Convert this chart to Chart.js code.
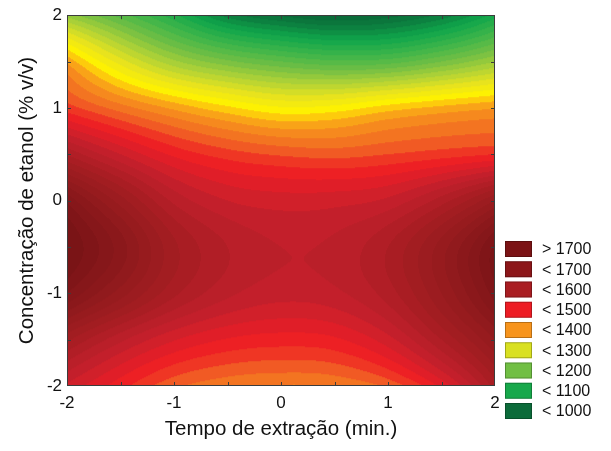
<!DOCTYPE html>
<html>
<head>
<meta charset="utf-8">
<script src="https://cdn.jsdelivr.net/npm/chart.js@4.4.1/dist/chart.umd.min.js"></script>
<style>
  html, body { margin: 0; padding: 0; background: #ffffff; }
  #wrap { width: 611px; height: 451px; }
</style>
</head>
<body>
<div id="wrap"><canvas id="surface" width="611" height="451"></canvas></div>
<script>
// Axis tick labels
const xTickValues = [-2, -1, 0, 1, 2];
const yTickValues = [-2, -1, 0, 1, 2];

// Coded factor levels of the response grid
const timeLevels = [-2, -1.5, -1, -0.5, 0, 0.5, 1, 1.5, 2];        // Tempo de extração
const ethanolLevels = [2, 1.5, 1, 0.5, 0, -0.5, -1, -1.5, -2];    // Concentração de etanol

// Response values, one row per ethanol level (columns follow timeLevels)
const responseEthanol2p0  = [1210, 1150, 1085, 1010,  975,  958,  970, 1005, 1070];
const responseEthanol1p5  = [1375, 1290, 1225, 1185, 1160, 1145, 1150, 1180, 1220];
const responseEthanol1p0  = [1450, 1410, 1375, 1345, 1323, 1328, 1350, 1366, 1378];
const responseEthanol0p5  = [1578, 1520, 1475, 1450, 1437, 1432, 1440, 1450, 1460];
const responseEthanol0p0  = [1715, 1630, 1555, 1520, 1510, 1512, 1525, 1570, 1640];
const responseEthanolM0p5 = [1760, 1690, 1605, 1560, 1540, 1545, 1580, 1650, 1745];
const responseEthanolM1p0 = [1720, 1650, 1585, 1545, 1528, 1535, 1570, 1640, 1730];
const responseEthanolM1p5 = [1605, 1545, 1502, 1478, 1470, 1476, 1512, 1580, 1660];
const responseEthanolM2p0 = [1515, 1468, 1425, 1405, 1398, 1402, 1425, 1485, 1590];

const responseRows = [
  responseEthanol2p0, responseEthanol1p5, responseEthanol1p0,
  responseEthanol0p5, responseEthanol0p0, responseEthanolM0p5,
  responseEthanolM1p0, responseEthanolM1p5, responseEthanolM2p0
];

// Legend classes
const legendLabels = ['> 1700', '< 1700', '< 1600', '< 1500', '< 1400', '< 1300', '< 1200', '< 1100', '< 1000'];
const legendColors = ['#7b1315', '#8c1619', '#a91d22', '#ed1c24', '#f7941d', '#d9e021', '#71bf44', '#17a84b', '#0c6b3a'];

// Shading palette: response value -> colour
const paletteValues = [940, 1000, 1060, 1120, 1180, 1240, 1290, 1333, 1355, 1378, 1405, 1430, 1455, 1475,
                       1500, 1535, 1600, 1670, 1720, 1780];
const paletteColors = ['#0a5f34', '#0b7a3e', '#10a64b', '#3cb44a', '#72bf44', '#b4d335', '#e8e31d', '#fff200',
                       '#fdc010', '#f7941d', '#f47b20', '#f15a24', '#ee2d24', '#ed1c24',
                       '#d8202a', '#c01f2b', '#a51d22', '#911a1d', '#831619', '#721214'];
const bandWidth = 20;

// Minor tick marks drawn inside the frame
const frameTickValues = [-1.5, -1, -0.5, 0, 0.5, 1, 1.5];

const FONT = "'Liberation Sans', Arial, Helvetica, sans-serif";

function hexToRgb(h) {
  const n = parseInt(h.slice(1), 16);
  return [(n >> 16) & 255, (n >> 8) & 255, n & 255];
}
const paletteRgb = paletteColors.map(hexToRgb);

function colourFor(v) {
  if (v <= paletteValues[0]) return paletteRgb[0];
  const last = paletteValues.length - 1;
  if (v >= paletteValues[last]) return paletteRgb[last];
  let k = 0;
  while (paletteValues[k + 1] < v) k++;
  const t = (v - paletteValues[k]) / (paletteValues[k + 1] - paletteValues[k]);
  const a = paletteRgb[k], b = paletteRgb[k + 1];
  return [a[0] + (b[0] - a[0]) * t, a[1] + (b[1] - a[1]) * t, a[2] + (b[2] - a[2]) * t];
}

// Catmull-Rom interpolation between grid nodes, quadratic extension past the edges
function catmull(p0, p1, p2, p3, t) {
  const t2 = t * t, t3 = t2 * t;
  return 0.5 * (2 * p1 + (-p0 + p2) * t + (2 * p0 - 5 * p1 + 4 * p2 - p3) * t2 + (-p0 + 3 * p1 - 3 * p2 + p3) * t3);
}
function pick(arr, k) {
  const n = arr.length;
  if (k < 0) return 3 * arr[0] - 3 * arr[1] + arr[2];
  if (k >= n) return 3 * arr[n - 1] - 3 * arr[n - 2] + arr[n - 3];
  return arr[k];
}
function responseAt(vx, vy) {
  const fx = (vx - timeLevels[0]) / (timeLevels[1] - timeLevels[0]);
  const fy = (vy - ethanolLevels[0]) / (ethanolLevels[1] - ethanolLevels[0]);
  const i = Math.max(0, Math.min(timeLevels.length - 2, Math.floor(fx)));
  const j = Math.max(0, Math.min(ethanolLevels.length - 2, Math.floor(fy)));
  const tx = fx - i, ty = fy - j;
  const rowVal = r => {
    const row = responseRows[r];
    return catmull(pick(row, i - 1), pick(row, i), pick(row, i + 1), pick(row, i + 2), tx);
  };
  const along = k => {
    const n = responseRows.length;
    if (k < 0) return 3 * rowVal(0) - 3 * rowVal(1) + rowVal(2);
    if (k >= n) return 3 * rowVal(n - 1) - 3 * rowVal(n - 2) + rowVal(n - 3);
    return rowVal(k);
  };
  return catmull(along(j - 1), along(j), along(j + 1), along(j + 2), ty);
}

// Filled contour field
const contourField = {
  id: 'contourField',
  beforeDatasetsDraw(chart) {
    const { ctx, chartArea: a, scales: { x, y } } = chart;
    const w = Math.round(a.right - a.left), h = Math.round(a.bottom - a.top);
    const off = document.createElement('canvas');
    off.width = w; off.height = h;
    const octx = off.getContext('2d');
    const img = octx.createImageData(w, h);
    const d = img.data;
    for (let py = 0; py < h; py++) {
      const vy = y.getValueForPixel(a.top + py + 0.5);
      for (let px = 0; px < w; px++) {
        const vx = x.getValueForPixel(a.left + px + 0.5);
        const v = responseAt(vx, vy);
        const band = Math.floor(v / bandWidth) * bandWidth + bandWidth / 2;
        const c = colourFor(band);
        const o = (py * w + px) * 4;
        d[o] = c[0]; d[o + 1] = c[1]; d[o + 2] = c[2]; d[o + 3] = 255;
      }
    }
    octx.putImageData(img, 0, 0);
    ctx.save();
    ctx.drawImage(off, a.left, a.top);
    ctx.restore();
  }
};

// Frame around the plot with short inward ticks
const plotFrame = {
  id: 'plotFrame',
  afterDatasetsDraw(chart) {
    const { ctx, chartArea: a, scales: { x, y } } = chart;
    ctx.save();
    ctx.strokeStyle = '#3c3c3c';
    ctx.lineWidth = 1;
    ctx.strokeRect(Math.round(a.left) + 0.5, Math.round(a.top) + 0.5,
                   Math.round(a.right - a.left) - 1, Math.round(a.bottom - a.top) - 1);
    ctx.beginPath();
    const len = 4;
    frameTickValues.forEach(v => {
      const px = Math.round(x.getPixelForValue(v)) + 0.5;
      ctx.moveTo(px, a.top); ctx.lineTo(px, a.top + len);
      ctx.moveTo(px, a.bottom); ctx.lineTo(px, a.bottom - len);
      const py = Math.round(y.getPixelForValue(v)) + 0.5;
      ctx.moveTo(a.left, py); ctx.lineTo(a.left + len, py);
      ctx.moveTo(a.right, py); ctx.lineTo(a.right - len, py);
    });
    ctx.stroke();
    ctx.restore();
  }
};

// Class legend at the lower right
const classLegend = {
  id: 'classLegend',
  afterDraw(chart) {
    const { ctx, chartArea: a } = chart;
    const boxX = a.right + 10, boxW = 27, boxH = 16, pitch = 20.25, top0 = 241;
    ctx.save();
    ctx.font = '16px ' + FONT;
    ctx.textBaseline = 'middle';
    ctx.textAlign = 'left';
    legendLabels.forEach((label, i) => {
      const top = top0 + i * pitch;
      ctx.fillStyle = legendColors[i];
      ctx.fillRect(boxX, top, boxW, boxH);
      ctx.strokeStyle = 'rgba(0,0,0,0.25)';
      ctx.lineWidth = 1;
      ctx.strokeRect(boxX + 0.5, top + 0.5, boxW - 1, boxH - 1);
      ctx.fillStyle = '#111111';
      ctx.fillText(label, boxX + boxW + 10, top + boxH / 2 + 1);
    });
    ctx.restore();
  }
};

const gridPoints = [];
responseRows.forEach((row, r) => row.forEach((v, c) => gridPoints.push({ x: timeLevels[c], y: ethanolLevels[r], v })));

new Chart(document.getElementById('surface'), {
  type: 'scatter',
  data: {
    datasets: [{ label: 'Resposta', data: gridPoints, pointRadius: 0, pointHoverRadius: 0, showLine: false }]
  },
  options: {
    responsive: false,
    animation: false,
    events: [],
    layout: { padding: { top: 15, right: 116, bottom: 0, left: 0 } },
    plugins: { legend: { display: false }, tooltip: { enabled: false } },
    scales: {
      x: {
        type: 'linear', min: -2, max: 2,
        afterBuildTicks: s => { s.ticks = xTickValues.map(v => ({ value: v })); },
        afterFit: s => { s.height = 65; },
        grid: { display: false, drawTicks: false },
        border: { display: false },
        ticks: { color: '#111111', padding: 7, maxRotation: 0, font: { family: FONT, size: 17 } },
        title: { display: true, text: 'Tempo de extração (min.)', color: '#111111',
                 font: { family: FONT, size: 20.5 }, padding: { top: 0, bottom: 9 } }
      },
      y: {
        type: 'linear', min: -2, max: 2,
        afterBuildTicks: s => { s.ticks = yTickValues.map(v => ({ value: v })); },
        afterFit: s => { s.width = 67; },
        grid: { display: false, drawTicks: false },
        border: { display: false },
        ticks: { color: '#111111', padding: 5, font: { family: FONT, size: 17 } },
        title: { display: true, text: 'Concentração de etanol (% v/v)', color: '#111111',
                 font: { family: FONT, size: 20.5 }, padding: { top: 15, bottom: 0 } }
      }
    }
  },
  plugins: [contourField, plotFrame, classLegend]
});
</script>
</body>
</html>
